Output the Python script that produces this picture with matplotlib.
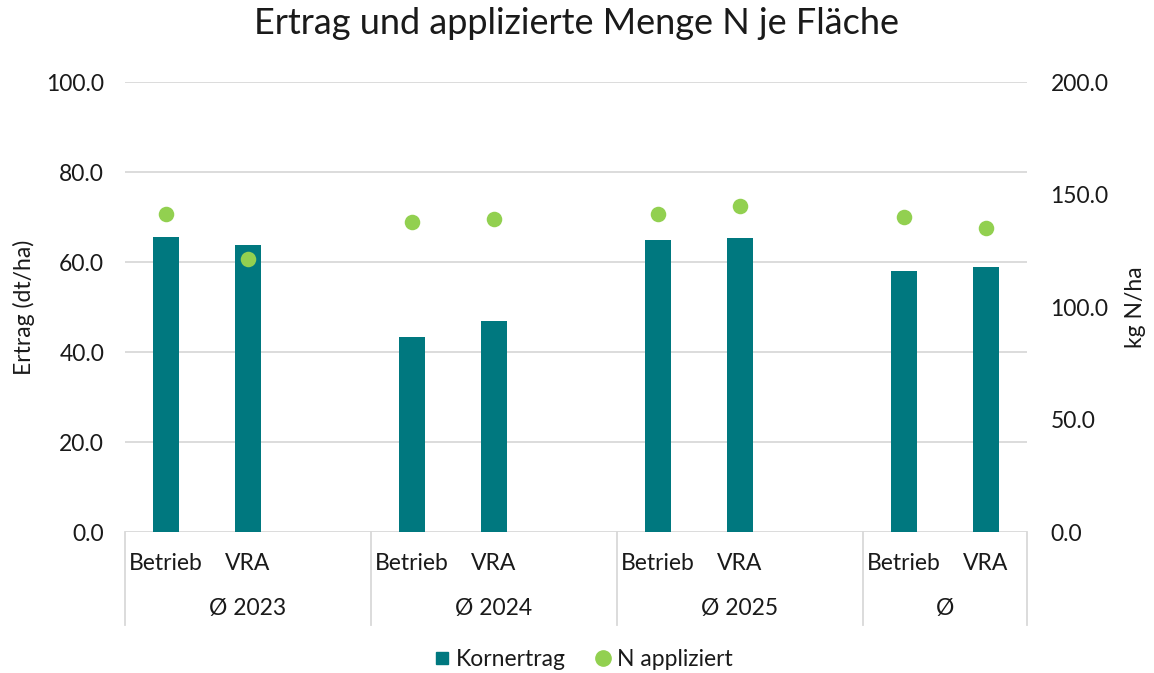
import matplotlib
matplotlib.use("Agg")
import matplotlib.pyplot as plt
from matplotlib.lines import Line2D
from matplotlib.transforms import blended_transform_factory

plt.rcParams['font.family'] = ['Lato', 'DejaVu Sans']

# Data
groups = ["Ø 2023", "Ø 2024", "Ø 2025", "Ø"]
variants = ["Betrieb", "VRA"]
kornertrag = [65.6, 63.8, 43.4, 46.8, 64.9, 65.4, 57.9, 58.8]      # dt/ha
n_appliziert = [141.3, 121.3, 137.8, 139.1, 141.2, 144.8, 140.1, 135.1]  # kg N/ha
left_ticks = [0, 20, 40, 60, 80, 100]
right_ticks = [0, 50, 100, 150, 200]

bar_color = "#00787F"
dot_color = "#92D050"
grid_color = "#D9D9D9"
text_color = "#1A1A1A"
fs = 16.5

# Category slots: each group gets one empty slot after it, except the last
positions, group_bounds = [], []
slot = 0
for gi, g in enumerate(groups):
    start = slot
    for v in variants:
        positions.append(slot)
        slot += 1
    if gi < len(groups) - 1:
        slot += 1
    group_bounds.append((start - 0.5, slot - 0.5))
n_slots = slot

fig = plt.figure(figsize=(11.54, 6.73), dpi=100)
ax = fig.add_axes([0.1083, 0.2095, 0.7816, 0.6686])
ax2 = ax.twinx()

ax.bar(positions, kornertrag, width=0.32, color=bar_color, zorder=3)
ax2.scatter(positions, n_appliziert, s=125, color=dot_color, zorder=4, linewidths=0)

ax.set_xlim(-0.5, n_slots - 0.5)
ax.set_ylim(0, 100)
ax2.set_ylim(0, 200)
ax.set_yticks(left_ticks)
ax.set_yticklabels([f"{t:.1f}" for t in left_ticks])
ax2.set_yticks(right_ticks)
ax2.set_yticklabels([f"{t:.1f}" for t in right_ticks])
ax.set_xticks([])

ax.yaxis.grid(True, color=grid_color, linewidth=1.3, zorder=0)
ax.set_axisbelow(True)
for a in (ax, ax2):
    for s in a.spines.values():
        s.set_visible(False)
    a.tick_params(axis='y', length=0, labelsize=fs, colors=text_color)
ax.tick_params(axis='y', pad=15)
ax2.tick_params(axis='y', pad=17)

ax.set_ylabel("Ertrag (dt/ha)", fontsize=fs, color=text_color, labelpad=8)
ax2.set_ylabel("kg N/ha", fontsize=fs, color=text_color, labelpad=12)

fig.suptitle("Ertrag und applizierte Menge N je Fläche", fontsize=26,
             color=text_color, y=0.99)

# Multi-level category axis
tr = blended_transform_factory(ax.transData, ax.transAxes)
sep_bottom = -(625 - 532) / 450
for p, name in zip(positions, variants * len(groups)):
    ax.text(p, -0.069, name, transform=tr, ha='center', va='center',
            fontsize=fs, color=text_color)
for (lo, hi), g in zip(group_bounds, groups):
    ax.text((lo + hi) / 2, -0.17, g, transform=tr, ha='center', va='center',
            fontsize=fs, color=text_color)
bounds = sorted(set([b for pair in group_bounds for b in pair]))
for b in bounds:
    ax.add_line(Line2D([b, b], [0, sep_bottom], transform=tr, color=grid_color,
                       linewidth=1.3, clip_on=False))

handles = [
    Line2D([], [], marker='s', linestyle='none', color=bar_color, markersize=9),
    Line2D([], [], marker='o', linestyle='none', color=dot_color, markersize=11),
]
fig.legend(handles, ["Kornertrag", "N appliziert"], loc='center',
           bbox_to_anchor=(0.505, 0.02), ncol=2, frameon=False, fontsize=fs,
           handlelength=0.8, handletextpad=0.2, columnspacing=1.2,
           labelcolor=text_color)

fig.savefig("out.png", dpi=100)
